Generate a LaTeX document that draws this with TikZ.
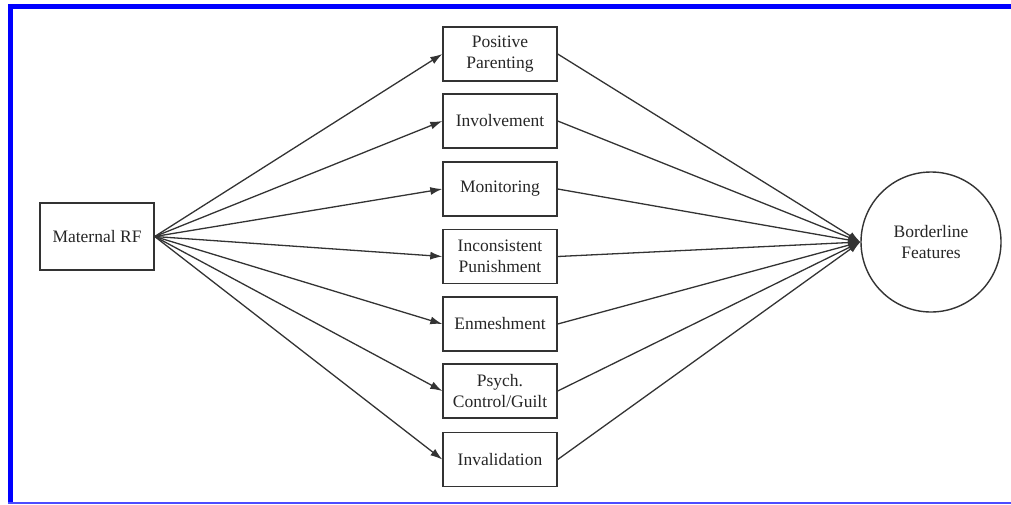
\documentclass[tikz,border=0pt]{standalone}
\usepackage{fontspec}
\setmainfont{Liberation Serif}
\usetikzlibrary{arrows.meta}
\begin{document}
\begin{tikzpicture}[x=1pt,y=-1pt,
  box/.style={draw=black!80,line width=1.4pt,minimum width=114pt,minimum height=54pt,inner sep=0pt,align=center,font=\fontsize{17.5}{21.5}\selectfont,text=black!85},
  circ/.style={draw=black!80,line width=1.4pt,circle,minimum size=140pt,inner sep=0pt,align=center,font=\fontsize{17.5}{21.5}\selectfont,text=black!85},
  conn/.style={draw=black!80,line width=1.3pt,-{Latex[length=12pt,width=8pt]}}]
\useasboundingbox (0,0) rectangle (1011,504);
\fill[blue] (8,4) rectangle (1011,9);
\fill[blue] (8,4) rectangle (13,503);
\fill[blue!70] (8,502) rectangle (1011,503.5);
\node[box,minimum width=114pt,minimum height=67pt] (m) at (97,236.5) {Maternal RF};
\node[box] (b1) at (500,54) {Positive\\Parenting};
\node[box] (b2) at (500,121) {Involvement};
\node[box] (b3) at (500,189) {Monitoring};
\node[box] (b4) at (500,256.5) {Inconsistent\\Punishment};
\node[box] (b5) at (500,324) {Enmeshment};
\node[box] (b6) at (500,391) {Psych.\\Control/Guilt};
\node[box] (b7) at (500,459.5) {Invalidation};
\node[circ] (bf) at (931,242) {Borderline\\Features};
\foreach \i in {1,...,7} {
  \draw[conn] (m.east) -- (b\i.west);
  \draw[conn] (b\i.east) -- (bf.west);
}
\end{tikzpicture}
\end{document}
